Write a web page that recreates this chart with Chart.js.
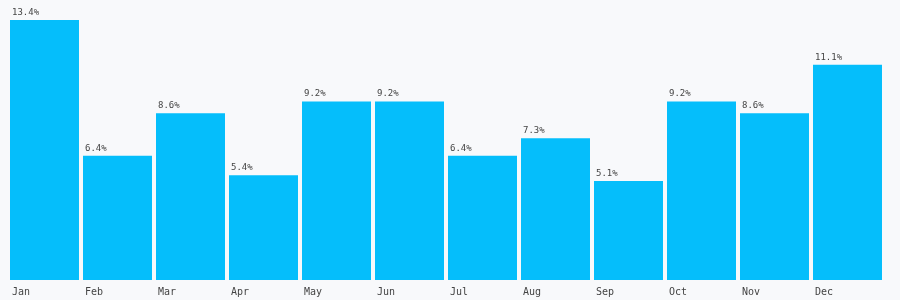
<!DOCTYPE html>
<html><head><meta charset="utf-8">
<script src="https://cdn.jsdelivr.net/npm/chart.js@4/dist/chart.umd.min.js"></script>
<style>html,body{margin:0;padding:0;background:#f8f9fb;}#wrap{width:900px;height:300px;}</style>
</head><body><div id="wrap"><canvas id="c" width="900" height="300"></canvas></div>
<script>
const months = ['Jan','Feb','Mar','Apr','May','Jun','Jul','Aug','Sep','Oct','Nov','Dec'];
const shares = [13.4, 6.4, 8.6, 5.4, 9.2, 9.2, 6.4, 7.3, 5.1, 9.2, 8.6, 11.1];
const FONT = '"DejaVu Sans Mono", "Liberation Mono", monospace';

const valueLabels = {
  id: 'valueLabels',
  afterDatasetsDraw(chart) {
    const ctx = chart.ctx;
    const meta = chart.getDatasetMeta(0);
    ctx.save();
    ctx.font = '9px ' + FONT;
    ctx.fillStyle = '#444';
    ctx.textAlign = 'left';
    ctx.textBaseline = 'alphabetic';
    meta.data.forEach((bar, i) => {
      const left = bar.x - bar.width / 2;
      ctx.fillText(shares[i].toFixed(1) + '%', left + 2, bar.y - 5);
    });
    ctx.restore();
  }
};

new Chart(document.getElementById('c'), {
  type: 'bar',
  data: { labels: months, datasets: [{ data: shares, backgroundColor: '#05befb', borderWidth: 0, barPercentage: 0.945, categoryPercentage: 1 }] },
  options: {
    responsive: false, animation: false,
    layout: { padding: { left: 8, right: 16, top: 20, bottom: -4 } },
    plugins: { legend: { display: false }, tooltip: { enabled: false } },
    scales: {
      y: { display: false, min: 0, max: 13.4 },
      x: {
        grid: { display: false, drawTicks: false }, border: { display: false },
        ticks: { align: 'start', labelOffset: -32.5, padding: 6, color: '#444', font: { family: FONT, size: 10 } }
      }
    }
  },
  plugins: [valueLabels]
});
</script></body></html>
